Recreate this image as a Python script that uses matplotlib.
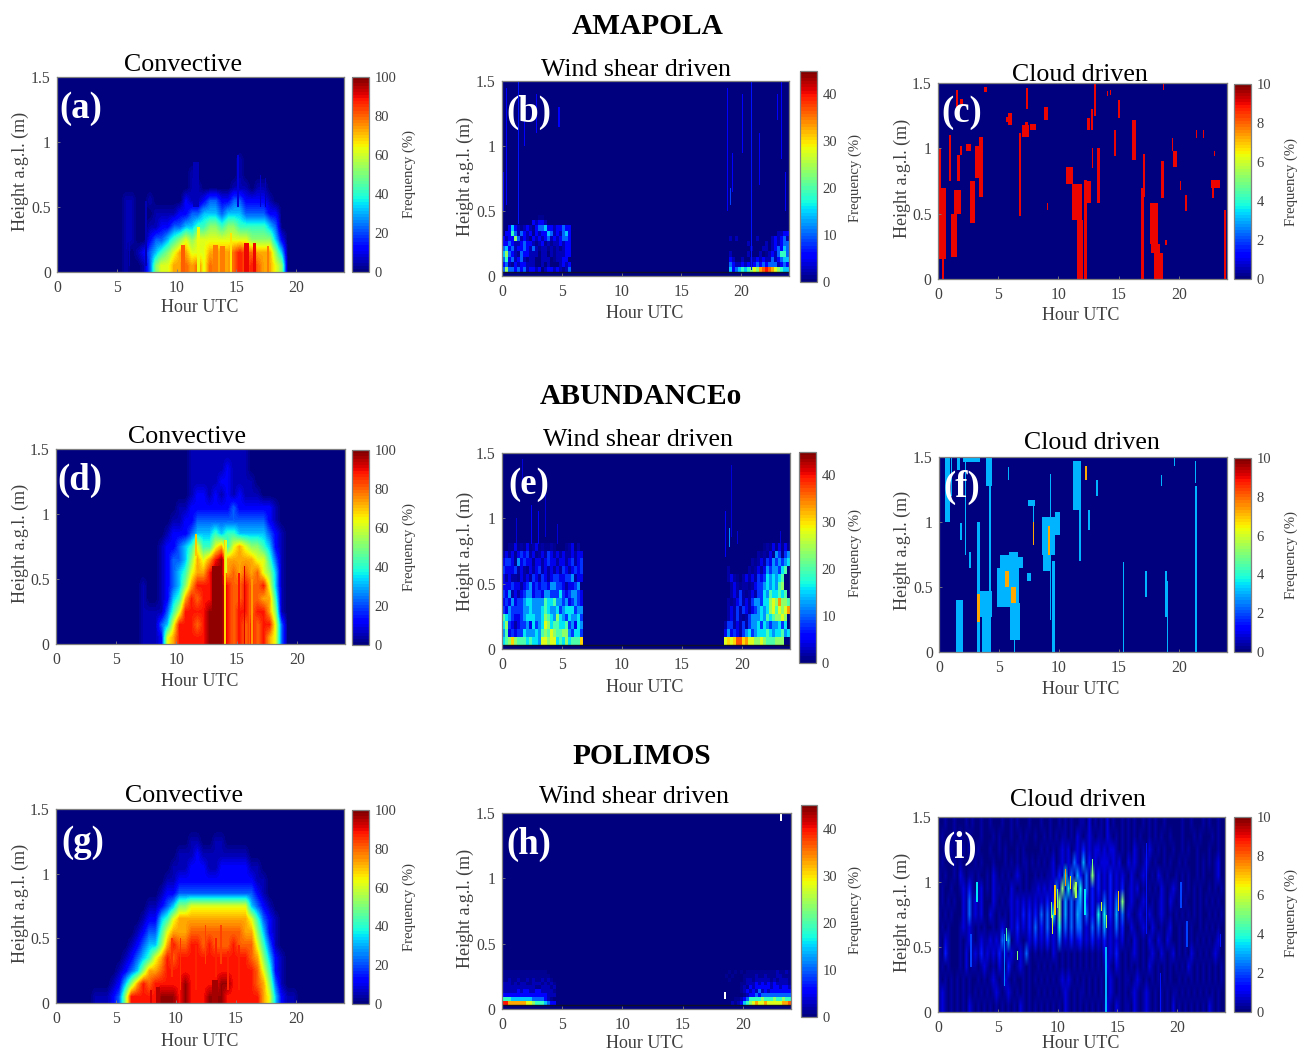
import numpy as np
import matplotlib
matplotlib.use("Agg")
import matplotlib.pyplot as plt

plt.rcParams['font.family'] = ['Liberation Serif', 'DejaVu Serif']

W, H = 1304, 1052
TXT = '#404040'
EDGE = '#808080'

# Cell codes (share of the colour scale): '.'=0, ':'=2.5 %, '-'=5 %, 1..6 = 12..62 %, 7=73 %, 'o'=80 %, 8=88 %, 9=97 %
# ---- Convective: 48 half-hour columns, 0.1 m rows, listed from the top down
a_rows = [
 "........ ........ ........ ......-. ........ ........",
 "........ ........ ......-. ......-. ........ ........",
 "........ ........ ......-- .....--- .--..... ........",
 "........ ...--..- .....1-- 12211221 111-.... ........",
 "........ ...--... ----1122 33323332 22211... ........",
 "........ ...--..- -1122334 45545544 44432... ........",
 "........ ...--..1 22345656 66666666 555531.. ........",
 "........ ...-.-12 34567766 67777o8o o77753.. ........",
 "........ ...-..-2 56677o7o 6o777o8o 8o7765.. ........",
]
a_t0 = [11.3, 15.0, 6.0, 7.3, 16.9, 17.3, 10.3, 15.6, 16.3, 13.0, 13.6, 17.5, 11.7, 14.4]
a_t1= [11.8, 15.2, 6.1, 7.5, 17.0, 17.4, 10.7, 16.0, 16.6, 13.4, 14.0, 17.7, 11.9, 14.6]
a_h0 = [0.5, 0.5, 0.05, 0.05, 0.5, 0.5, 0.0, 0.0, 0.0, 0.0, 0.0, 0.0, 0.0, 0.0]
a_h1 = [0.85, 0.9, 0.4, 0.55, 0.75, 0.72, 0.21, 0.22, 0.22, 0.21, 0.2, 0.2, 0.35, 0.3]
a_v = [6, 8, 5, 6, 7, 6, 80, 90, 90, 78, 78, 78, 64, 66]

d_rows = [
 "........ ........ ......-- -------- ........ ........",
 "........ ........ ......-- ----1--- ........ ........",
 "........ ........ ......-- ---11--- -....... ........",
 "........ ........ ......-1 1-1-1-1- --...... ........",
 "........ ........ ....--11 11111211 1111-... ........",
 "........ ........ ...--112 22222222 2221-... ........",
 "........ ........ ..-11123 33434433 33321-.. ........",
 "........ ........ .-112346 44674676 55431-.. ........",
 "........ ........ .-122357 67897777 76642-.. ........",
 "........ ........ .-123467 78997o7o 7o653-.. ........",
 "........ ......-. .-123578 88998oo8 oo863-.. ........",
 "........ ......-. .-13478o 88998oo8 oo774-.. ........",
 "........ ......-- --246888 89998o88 o8875-.. ........",
 "........ ......-- -236888o 89998o8o 8o8862.. ........",
 "........ ......-- -1678888 89998o8o 8o8762.. ........",
]
d_t0 = [13.9, 12.9, 14.0, 15.1, 16.2, 16.0, 11.6, 15.6]
d_t1 = [14.05, 13.7, 14.15, 15.25, 16.3, 16.1, 11.75, 15.7]
d_h0 = [0.0, 0.0, 0.55, 0.0, 0.0, 0.0, 0.68, 0.0]
d_h1 = [0.8, 0.6, 0.8, 0.55, 0.5, 0.5, 0.85, 0.6]
d_v = [68, 97, 62, 88, 74, 80, 70, 92]

g_rows = [
 "........ ........ ........ ........ ........ ........",
 "........ ........ ........ ........ ........ ........",
 "........ ........ ......-- ..--.... ........ ........",
 "........ ........ ....---1 -------- ........ ........",
 "........ ........ ...---11 1--11111 --...... ........",
 "........ ........ ..--1111 11111111 1--..... ........",
 "........ ........ .-112222 22222222 21-..... ........",
 "........ .......- -1235566 66666666 321-.... ........",
 "........ ......-1 13467777 77777777 6421-... ........",
 "........ .....-12 246777oo ooooooo7 7531-... ........",
 "........ ....-123 3578oo88 o8ooo8oo o642-... ........",
 "........ ...-1234 678o8888 88888888 o7531-.. ........",
 "........ ..-12357 7o888888 88888888 8o641-.. ........",
 "........ .-13578o 88888988 88899888 8o752-.. ........",
 "......-- -1258888 89998988 89998888 887631-- ........",
]
g_t0 = [8.3, 10.3, 12.3, 12.9, 11.6, 14.2, 9.6, 13.6, 15.1, 7.8, 13.2]
g_t1 = [8.7, 10.45, 12.45, 13.4, 11.75, 14.35, 9.75, 13.75, 15.25, 8.0, 13.35]
g_h0 = [0.0, 0.1, 0.3, 0.0, 0.1, 0.1, 0.2, 0.3, 0.1, 0.0, 0.2]
g_h1 = [0.12, 0.5, 0.6, 0.18, 0.45, 0.4, 0.5, 0.6, 0.45, 0.1, 0.5]
g_v = [94, 85, 84, 96, 86, 86, 85, 84, 86, 92, 86]

# ---- Wind shear: quarter-hour columns; left block from 0 h, right block from 18 h
b_left = [
 "............::..........",
 "..........1-11-.........",
 "..131-:-1-:122311-11211.",
 ".1142-21-1:1-1132-1-231.",
 "1-1152-1-:1-1-12-1-1221.",
 "1121--1211-:-1:-:--1-11.",
 "2312-1121-2-:--:-:-:-11.",
 "3521-:211---.--.-:---11.",
 "2412-12-:--..---.:--11..",
 "12-:1-11---..-.-...-1-1.",
 "25221212-11-1.-11-1-:-2.",
]
b_right = [
 "........................",
 "........................",
 "........................",
 "....................--11",
 "....-.-......-....-1-12-",
 "..........-.....-.-1-122",
 "...........-...--.-12132",
 "....-.....-...-.:-1-2442",
 "....1-..-..--1-1--2-1233",
 "....21--1-1-12121222-121",
 "....31234345657o8o765433",
]
b_t0 = [0.05, 0.3, 1.35, 1.8, 2.8, 4.7, 18.85, 19.05, 19.25, 20.85, 20.1, 21.5, 23.3, 23.65, 23.0]
b_t1 = [0.12, 0.37, 1.45, 1.87, 2.87, 4.8, 18.92, 19.2, 19.32, 20.92, 20.17, 21.57, 23.37, 23.72, 23.07]
b_h0 = [0.5, 0.55, 0.4, 1.0, 1.1, 1.15, 0.5, 0.55, 0.65, 0.05, 0.95, 0.7, 0.9, 0.5, 1.2]
b_h1 = [0.8, 1.45, 1.5, 1.25, 1.4, 1.3, 1.45, 0.68, 0.95, 1.5, 1.4, 1.1, 1.5, 0.8, 1.4]
b_v = [5, 5, 7, 5, 5, 5, 5, 9, 5, 7, 5, 5, 6, 6, 5]

e_left = [
 "..::1:-:1:-1:-::-:...:-1.-.",
 "-1-1:1212-1:-1-21-1-1--1-11",
 "1221:31211:11-1211-11-12-12",
 "21112-1-:1-12-1-1-1-21-1212",
 "1-1--:1-1-21-21-12211223-11",
 "11121 1-123121221332 21-1123".replace(' ', ''),
 "213-1-123312213322242123321",
 "121312234433335445332312321",
 "213222233433345433423444233",
 "543211234443346543643243342",
 "4621-1223142347645544523143",
 "351212243334356576556632442",
 "456o6555454437767745464555o",
]
e_right = [
 "...............:-:1:1:1:-",
 ".............-:-:1:32:231",
 "...........-:-1-21323234",
 "...-......-:-1-13233245",
 "...-1-:.-1-1-212434345",
 "....-1-:--:-1223434356",
 "....-1-2-:-1-2243544545",
 "...-:-12-1-2332446768665",
 "...-1-2-21-1234346757678",
 "...-1-2-:-2333435456676",
 "..-22-1-2-2334243233424",
 "..13121-2342344454344534",
 "..7o7o99o8776676555666",
]
e_t0 = [1.2, 2.4, 3.0, 3.6, 4.6, 18.55, 18.9, 19.1, 19.6, 23.2, 1.7]
e_t1 = [1.27, 2.47, 3.07, 3.67, 4.67, 18.62, 18.97, 19.17, 19.67, 23.27, 1.77]
e_h0 = [0.8, 0.8, 0.8, 0.85, 0.8, 0.7, 0.78, 0.85, 0.8, 0.8, 1.2]
e_h1 = [1.0, 1.1, 1.05, 1.2, 0.95, 1.05, 0.92, 1.4, 0.9, 0.9, 1.45]
e_v = [4, 5, 5, 4, 4, 5, 12, 4, 4, 4, 4]

h_left = [
 ":::::::::::::::.........",
 "::::::::::::::::........",
 "::-::-::-:-::-:-:.......",
 "---:-:--::---:-:-:......",
 "-----------::---:-......",
 "-----1-11--11----:......",
 "111111111111111---......",
 "444333333322221-:.......",
 "887777776654443211......",
]
h_right = [
 "...:.:.:.::::::::::-::-:",
 "..:.:...::::-::-:::--:::",
 "...:....:--:-----:-:---:",
 ".......::---1-1-1-1----:",
 ".......:-:1-11111-11-11-",
 ".......:-1-1-2-1-1111111",
 "........:-11212222222222",
 ".....::-1244445444544544",
 "....-:-1345676676666677o",
]
# the two white (no data) specks of panel h
h_gap_t0 = [23.1, 18.45]
h_gap_t1 = [23.22, 18.55]
h_gap_h0 = [1.44, 0.08]
h_gap_h1 = [1.5, 0.13]

# ---- Cloud driven: patches (hour span, height span, value)
c_t0 = [0.08,0.35,0.0,1.05,1.3,0.9,1.6,2.7,3.05,3.4,1.8,2.3,1.5,1.8,5.85,5.65,6.65,6.9,7.2,7.25,7.55,8.75,10.55,11.1,11.5,12.07,12.3,12.9,12.7,12.3,13.2,14.6,14.9,16.1,16.85,17.0,17.55,17.9,17.68,18.45,18.75,19.4,20.0,20.45,22.55,22.7,23.7,21.3,3.85,18.55,14.25,9.0,21.9,22.85,12.75,19.3,14.0]
c_t1 = [0.64,0.5,0.28,1.6,1.9,1.1,1.8,3.05,3.45,3.75,2.0,2.75,1.65,2.1,6.1,5.8,6.8,7.5,7.4,7.45,8.1,9.05,11.2,11.95,12.0,12.35,12.7,13.1,12.85,12.55,13.45,14.75,15.05,16.45,17.05,17.2,18.2,18.55,18.3,18.65,18.9,19.75,20.1,20.6,23.3,22.8,23.85,21.45,4.1,18.65,14.35,9.1,22.0,22.95,12.85,19.4,14.1]
c_h0 = [0.15,0.0,0.7,0.17,0.5,0.75,0.75,0.43,0.77,0.63,0.95,0.98,1.32,1.34,1.18,1.2,0.48,1.09,1.15,1.3,1.14,1.22,0.73,0.45,0.0,0.0,0.58,1.25,1.14,1.14,0.58,0.94,1.23,0.91,0.0,0.63,0.27,0.0,0.2,0.62,0.26,0.86,0.68,0.52,0.7,0.62,0.0,1.08,1.43,1.45,1.41,0.53,1.08,0.94,0.85,0.98,1.4]
c_h1 = [0.7,0.2,1.0,0.5,0.68,1.1,0.95,0.75,1.02,1.09,1.02,1.03,1.45,1.38,1.27,1.24,1.12,1.18,1.2,1.46,1.19,1.32,0.86,0.73,0.45,0.76,0.75,1.5,1.3,1.23,1.0,1.14,1.37,1.22,0.7,0.96,0.58,0.2,0.27,0.9,0.3,0.98,0.75,0.64,0.76,0.7,0.53,1.14,1.47,1.5,1.45,0.58,1.14,0.98,1.0,1.08,1.44]
c_v = [9.0] * len(c_t0)

f_t0 = [1.4,3.2,3.15,3.4,3.55,4.2,4.8,5.1,5.8,5.9,6.25,6.6,8.55,8.7,9.65,9.45,9.25,11.2,11.65,12.45,0.5,1.0,1.5,2.15,1.75,2.5,15.3,17.2,18.85,19.0,21.35,21.35,18.5,19.55,7.8,7.45,7.3,12.2,13.1,5.75,3.95,2.0,3.2,5.5,6.0,9.1,7.8]
f_t1 = [2.0,3.4,3.4,4.4,4.15,4.35,6.7,5.8,6.6,6.75,6.33,7.0,9.65,9.25,10.1,9.7,9.33,11.85,11.8,12.55,0.9,1.1,1.75,2.25,1.9,2.7,15.4,17.3,19.0,19.1,21.5,21.45,18.6,19.65,7.95,8.0,7.7,12.35,13.25,5.85,4.4,3.4,3.4,5.8,6.45,9.25,7.9]
f_h0 = [0.0,0.0,0.23,0.27,0.0,0.0,0.35,0.5,0.4,0.09,0.0,0.65,0.75,0.62,0.9,0.0,0.25,1.09,0.7,0.94,1.0,1.2,1.4,0.75,0.86,0.65,0.0,0.42,0.27,0.0,0.0,1.3,1.28,1.43,0.82,1.12,0.55,1.32,1.2,1.32,1.28,1.46,0.23,0.5,0.38,0.75,0.82]
f_h1 = [0.4,1.0,0.54,0.47,0.27,1.5,0.65,0.75,0.77,0.38,0.09,0.73,1.04,0.75,1.08,0.7,1.37,1.47,1.09,1.09,1.5,1.5,1.5,1.5,0.99,0.77,0.69,0.62,0.62,0.55,1.28,1.47,1.36,1.5,1.17,1.17,0.61,1.43,1.32,1.42,1.5,1.5,0.45,0.62,0.5,0.97,1.0]
f_v = [3.0]*37 + [7.3, 3.0, 3.0, 3.0, 3.0, 7.3, 7.3, 7.3, 7.3, 7.3]

i_rows = [
 "..-..-...-.-..-. .-...-..-.-...-. ..-..-..-.-.-..- -.1.-.-.1.-..-.- .-..-.-.-..-.... .-..-...-.-..-..",
 ".-...-.-..-...-. ..-.-...-..-.-.. -..-.-.-.--.-.1 -.-1-.--.1-.-.-. -.-.-..-.-.-..-. ..-...-.-...-.-.",
 "..-.-...-.-..-.. .-..-.-...-.-... ..-.-.-.-1-1.-1- 2-1-11-1-11-.-.- .1-.-.1-.-.-..-. .-.-..-...-..-..",
 ".-...-.-....-.-. ..-...-.-.-.--. -.-.-.-1.-1-1-3 1-4-2-1-111-1-1. .1-1-.-1-.-..-.- ..-.-...-.-.-.-1",
 "-.-..-.1-.--.-.. -.1-.-.-.-1-.-.. -.-.--1-2-5-3-4 2-3-7-2-1-2-1-1- .1-.-1-.-.1-.-.. -.-.-..-.-...-1.",
 ".-..-..-1-2-.-1. -.1--.-.1-.-.-.- -1-1-1-3-7-5-7- 5-3-2-2-1-2-1-2. -1-1.-.-.-.1-.-1 -.-.-.-.-..-.-.-",
 ".-.-.-..1-3-1-1. ..1-.-.-1-1-1-1- 1-1-2-2-7-4-3-3 4-2-2-1-3-2-3-7. -1-.-1-.-.-1-.1- .-.-..-.-.-.-.-.",
 "-.-.-...1-3-1-1. .1-.-.-.1-1-2-2- 2-3-3-5-7-4-3-4 3-3-2-5-5-2-4-3. 1-.-1-.1-.-1-.-. -.-.-.-.-..-.-.-",
 ".-.-...-1-1-.-.- ..-.-1-.1-2-1-2- 3-2-3-1-5-3-3-3 3-1-3-3-4-1-3-2. .1-.-1-.1-.-.-1. .-.-.-..-.-.-.-.",
 "-.1-...-.-1-.-1- -1-1-3-4.-1-.-1- 2-1-2-1-3-1-2-1 2-1-2-1-2-1-1-1. -.1-.-.1-.1-.1-. .-.-.-.-.-.-.-1.",
 "-.2-...-.1.-1-2- 1-1-2-1-1-.1-3-. -.-.-.1-.-.-.-. -.-.-.-.1-1-2-.- .-1-.-.-1-.1-.-1 .-.-.1-.-.-.-1-.",
 ".-.-...-.1.--.-1 -.-.1-.2-.-1-.-. .-.-.-.-.-.-.-. -.-.-.-.-1-.1-.- .-.-.-.1-.-.-.-. -.-.1-.-.-.-.-.-",
 "-.-.-.-.-.-..-.- .-1-.-1-.-..-.-. -.-.-.-.-1-1-.-. -.-.-.-.-1-.-.- -.-1-.-.-.-.-.-. .-.-.-.-.-.-.-.-",
 "-1-.-.-.-.-.-.-. -.-1-.-1-.-.-.-. .-.-.-.-.-1-.-.- -.-.-.-.-1-.-.- .-1-.-1-.-.-.-.- -.-.-.-.-.-.-.-.",
 "-1-.-.-.-.1-.-.- .-.-.-.-.-.1-.-. -.-.-.-.-.1-.-.- .-.-.-.-1-.1-.- -.1-.-1-.-.-.-.1 .-.-.-.-.-.1-.-.",
]
i_t0 = [9.7,9.5,10.55,11.0,11.45,12.8,15.0,13.55,12.2,13.95,5.65,6.6,9.9,9.4,3.2,14.0,17.3,20.2,5.5,2.7,18.5,20.7,23.5]
i_t1 = [9.8,9.6,10.65,11.1,11.55,12.9,15.1,13.65,12.3,14.05,5.75,6.7,10.0,9.5,3.3,14.1,17.4,20.3,5.6,2.8,18.6,20.8,23.6]
i_h0 = [0.75,0.6,0.97,0.95,0.88,1.05,0.78,0.78,0.75,0.0,0.55,0.4,0.8,0.72,0.85,0.65,0.6,0.8,0.2,0.35,0.0,0.5,0.5]
i_h1 = [0.98,0.75,1.1,1.05,1.0,1.18,0.93,0.85,0.95,0.5,0.65,0.47,0.95,0.85,1.0,0.75,1.3,1.0,0.6,0.6,0.3,0.7,0.6]
i_v = [7.0,6.0,7.5,6.5,5.5,5.0,7.0,6.0,3.5,3.0,4.5,5.0,5.0,5.0,3.5,5.5,1.5,2.0,2.5,2.0,1.5,2.0,1.5]

x_ticks = [0, 5, 10, 15, 20]
y_ticks = [0, 0.5, 1, 1.5]
y_tick_labels = ['0', '0.5', '1', '1.5']
row_titles = ['AMAPOLA', 'ABUNDANCEo', 'POLIMOS']
col_titles = ['Convective', 'Wind shear driven', 'Cloud driven']
letters = list('abcdefghi')
scale_max = [100, 45, 10]
scale_ticks = [[0, 20, 40, 60, 80, 100], [0, 10, 20, 30, 40], [0, 2, 4, 6, 8, 10]]
code_share = {'.': 0, ':': 2.5, '-': 5, '1': 12, '2': 22, '3': 32, '4': 42, '5': 52,
              '6': 62, '7': 73, 'o': 80, '8': 88, '9': 97}

NT, NH = 288, 150


def paint(z, rows, t_start, dt, h_bottom, dh, vmax):
    nh, nt = z.shape
    rows = [r.replace(' ', '') for r in rows]
    for k, r in enumerate(rows[::-1]):
        j0 = int(round((h_bottom + k * dh) / 1.5 * nh))
        j1 = int(round((h_bottom + (k + 1) * dh) / 1.5 * nh))
        for m, ch in enumerate(r):
            t0 = t_start + m * dt
            if t0 >= 24:
                break
            i0 = int(round(t0 / 24 * nt))
            i1 = int(round((t0 + dt) / 24 * nt))
            z[j0:j1, i0:i1] = code_share[ch] / 100 * vmax


def patches(z, t0, t1, h0, h1, v):
    nh, nt = z.shape
    for a, b, c, d, val in zip(t0, t1, h0, h1, v):
        i0, i1 = int(round(a / 24 * nt)), int(round(b / 24 * nt))
        j0, j1 = int(round(c / 1.5 * nh)), int(round(d / 1.5 * nh))
        z[j0:max(j1, j0 + 1), i0:max(i1, i0 + 1)] = val


def base(rows, ncols, vmax):
    z = np.zeros((15, ncols))
    paint(z, rows, 0, 24 / ncols, 0.0, 0.1, vmax)
    return z


def overlay(t0, t1, h0, h1, v):
    z = np.full((NH, NT), np.nan)
    patches(z, t0, t1, h0, h1, v)
    return z


za = base(a_rows, 48, 100)
zd = base(d_rows, 48, 100)
zg = base(g_rows, 48, 100)
zi = base(i_rows, 96, 7)

zb = np.zeros((NH, NT))
paint(zb, b_left, 0, 0.25, 0.03, 0.04, 45)
paint(zb, b_right, 18, 0.25, 0.03, 0.04, 45)
patches(zb, b_t0, b_t1, b_h0, b_h1, b_v)

ze = np.zeros((NH, NT))
paint(ze, e_left, 0, 0.25, 0.03, 0.06, 38)
paint(ze, e_right, 18, 0.25, 0.03, 0.06, 38)
patches(ze, e_t0, e_t1, e_h0, e_h1, e_v)

zh = np.zeros((NH, NT))
paint(zh, h_left, 0, 0.25, 0.03, 0.03, 45)
paint(zh, h_right, 18, 0.25, 0.03, 0.03, 45)
patches(zh, h_gap_t0, h_gap_t1, h_gap_h0, h_gap_h1, [np.nan] * len(h_gap_t0))

zc = np.zeros((NH, NT))
patches(zc, c_t0, c_t1, c_h0, c_h1, c_v)
zf = np.zeros((NH, NT))
patches(zf, f_t0, f_t1, f_h0, f_h1, f_v)

grids = [za, zb, zc, zd, ze, zf, zg, zh, zi]
overlays = {0: overlay(a_t0, a_t1, a_h0, a_h1, a_v),
            3: overlay(d_t0, d_t1, d_h0, d_h1, d_v),
            6: overlay(g_t0, g_t1, g_h0, g_h1, g_v),
            8: overlay(i_t0, i_t1, i_h0, i_h1, i_v)}

# pixel layout: axes (l, r, t, b), colourbar (l, r, t, b), title, x label, y label, cbar label, letter
layout = [
 ((57,344,77,272),(352,369,77,272),(183,65),(200,308),(20,171),(409,174),(81,108)),
 ((502,789,81,276),(800,817,71,282),(636,70),(645,314),(465,176),(855,178),(529,112)),
 ((938,1227,83,279),(1234,1251,84,279),(1080,75),(1081,316),(902,178),(1291,182),(962,113)),
 ((56,345,449,644),(352,369,450,645),(187,437),(200,682),(20,543),(409,547),(80,480)),
 ((502,790,453,649),(799,816,452,663),(638,440),(645,687),(465,551),(855,553),(529,485)),
 ((939,1227,457,652),(1234,1251,458,652),(1092,443),(1081,689),(902,550),(1291,555),(962,487)),
 ((56,344,809,1003),(352,369,810,1004),(184,796),(200,1041),(20,903),(409,907),(83,842)),
 ((502,791,813,1009),(801,817,805,1017),(634,797),(645,1044),(465,908),(855,910),(529,844)),
 ((938,1225,817,1012),(1234,1251,817,1012),(1078,800),(1081,1044),(902,912),(1291,913),(960,848)),
]
row_title_xy = [(648, 26), (641, 396), (642, 756)]

fig = plt.figure(figsize=(W / 100, H / 100), dpi=100)
cmap = plt.get_cmap('jet', 64).copy()
cmap.set_bad('white')
cmap_over = plt.get_cmap('jet', 64).copy()
cmap_over.set_bad((0, 0, 0, 0))


def rect(l, r, t, b):
    return [l / W, 1 - b / H, (r - l) / W, (b - t) / H]


def put(xy, s, **kw):
    fig.text(xy[0] / W, 1 - xy[1] / H, s, ha='center', va='center', **kw)


for n, z in enumerate(grids):
    col = n % 3
    ax_box, cb_box, t_xy, xl_xy, yl_xy, cl_xy, let_xy = layout[n]
    ax = fig.add_axes(rect(*ax_box))
    im = ax.imshow(z, origin='lower', aspect='auto', extent=(0, 24, 0, 1.5),
                   cmap=cmap, vmin=0, vmax=scale_max[col],
                   interpolation='bilinear' if n in overlays else 'nearest')
    if n in overlays:
        ax.imshow(overlays[n], origin='lower', aspect='auto', extent=(0, 24, 0, 1.5),
                  cmap=cmap_over, vmin=0, vmax=scale_max[col], interpolation='nearest')
    if col == 1:
        ax.axhline(0.03, color='#10102a', lw=1)
    ax.set_xlim(0, 24)
    ax.set_ylim(0, 1.5)
    ax.set_xticks(x_ticks)
    ax.set_yticks(y_ticks)
    ax.set_yticklabels(y_tick_labels)
    ax.tick_params(direction='in', length=2, width=0.6, color=EDGE, labelsize=11.3,
                   labelcolor=TXT, pad=4.5)
    ax.tick_params(axis='x', pad=5.5)
    for s in ax.spines.values():
        s.set_color(EDGE)
        s.set_linewidth(0.9)

    cax = fig.add_axes(rect(*cb_box))
    cb = fig.colorbar(im, cax=cax)
    cb.set_ticks(scale_ticks[col])
    cb.ax.tick_params(direction='in', length=0, labelsize=10.5, labelcolor=TXT, pad=4)
    cb.outline.set_edgecolor(EDGE)
    cb.outline.set_linewidth(0.9)

    put(t_xy, col_titles[col], fontsize=18.6, color='black')
    put(xl_xy, 'Hour UTC', fontsize=13, color=TXT)
    put(yl_xy, 'Height a.g.l. (m)', fontsize=13, color=TXT, rotation=90)
    put(cl_xy, 'Frequency (%)', fontsize=10.6, color=TXT, rotation=90)
    put(let_xy, '(' + letters[n] + ')', fontsize=26.5, color='white', fontweight='bold')

for xy, s in zip(row_title_xy, row_titles):
    put(xy, s, fontsize=21.2, fontweight='bold', color='black')

fig.savefig('out.png', dpi=100, facecolor='white')
